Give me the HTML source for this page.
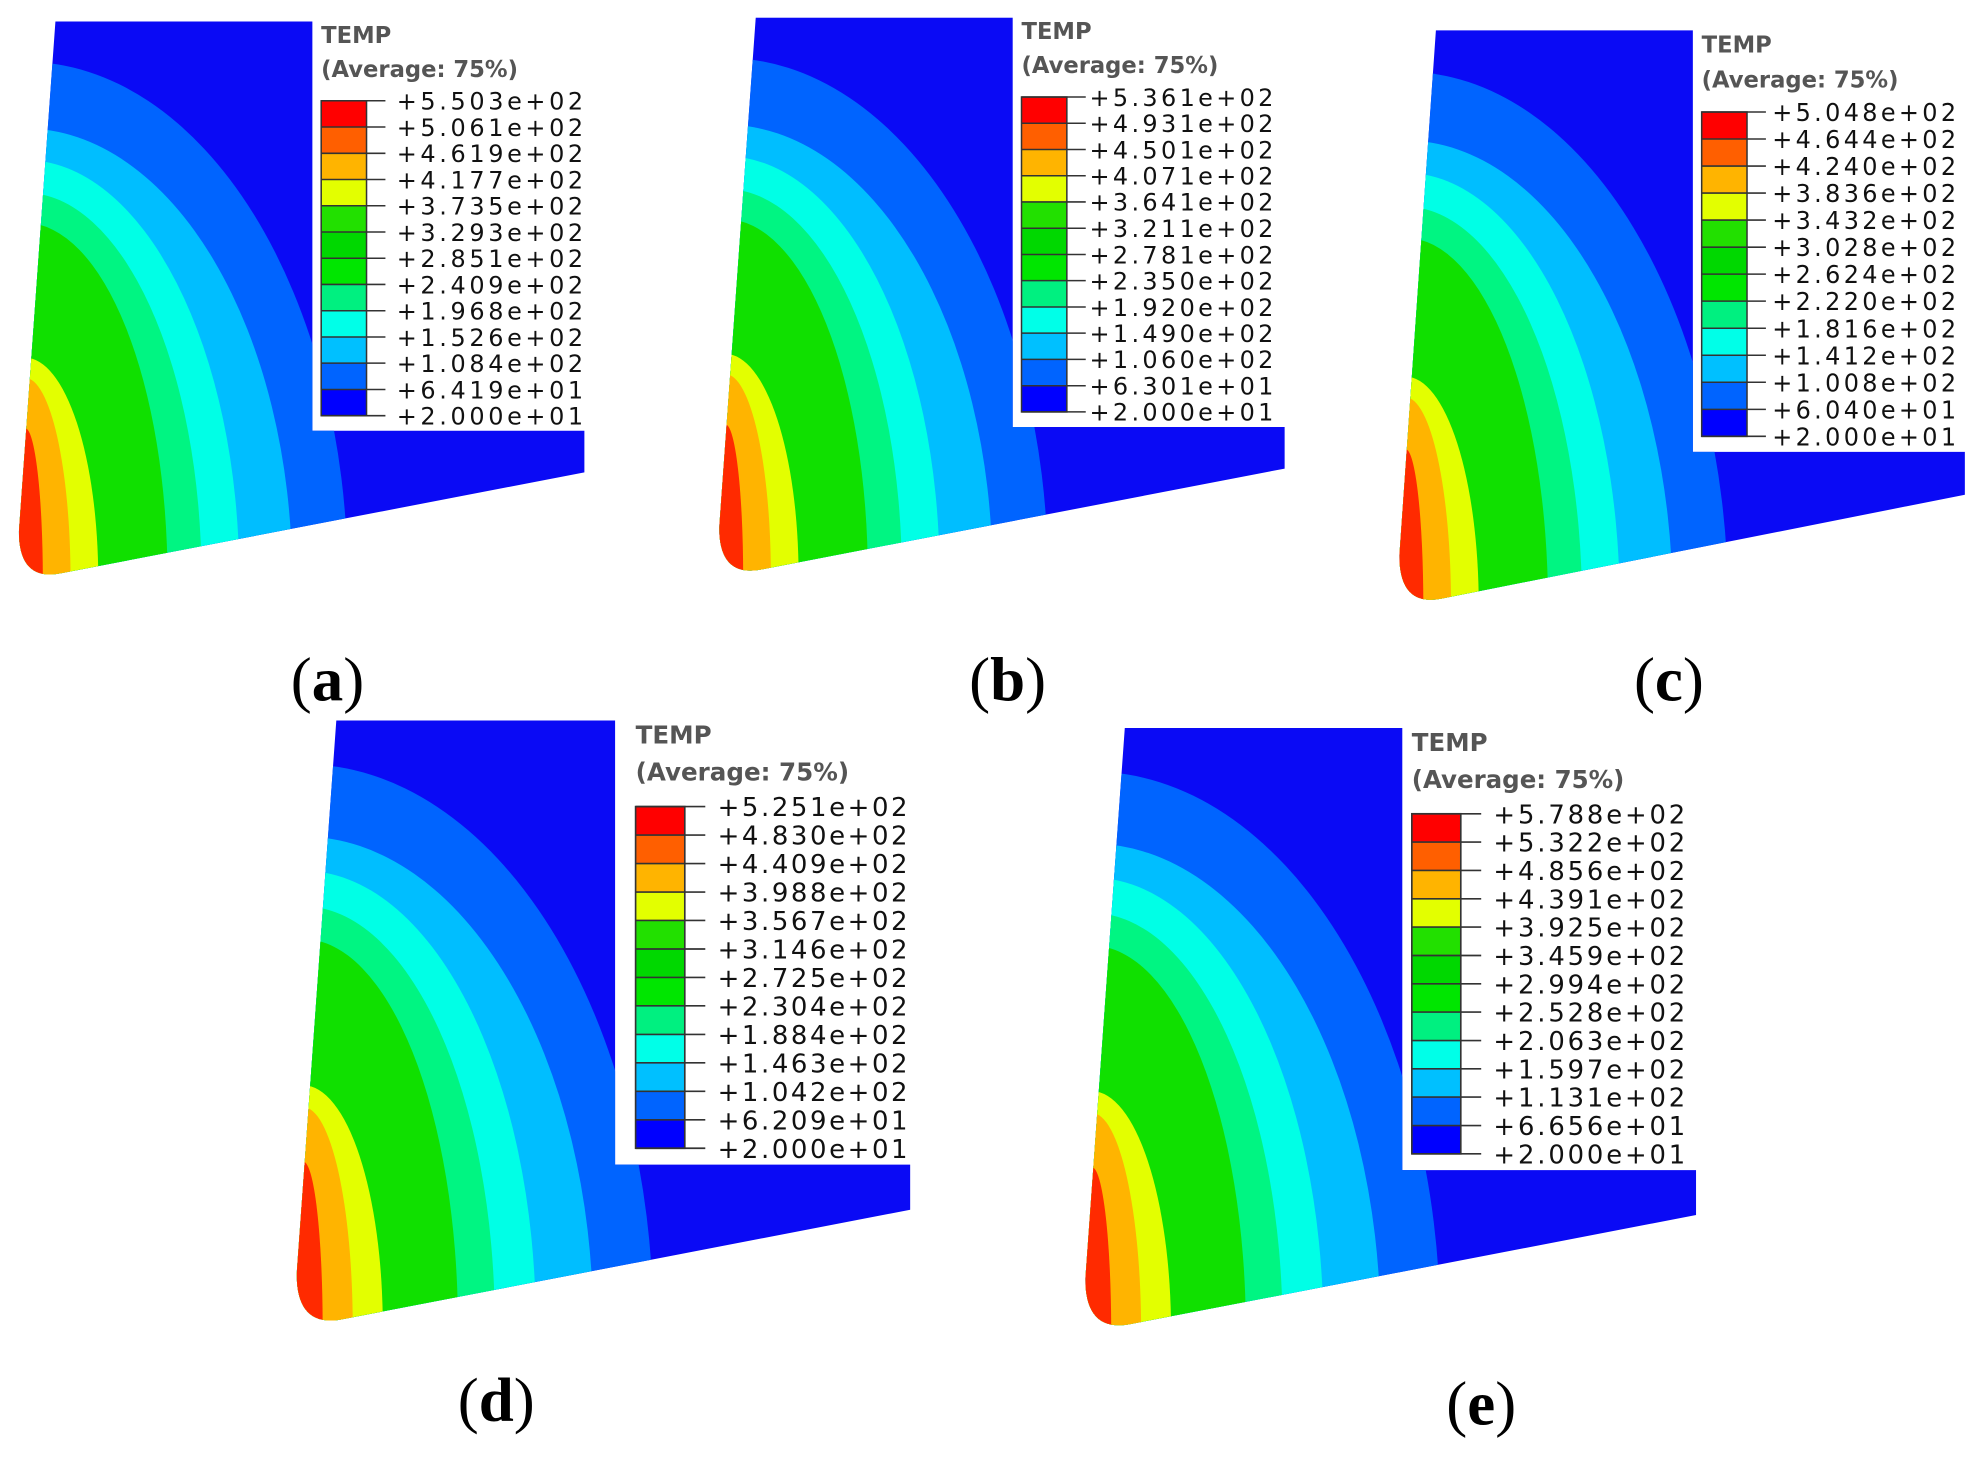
<!DOCTYPE html>
<html><head><meta charset="utf-8"><style>
html,body{margin:0;padding:0;background:#fff;width:1975px;height:1458px;overflow:hidden;}
svg{display:block;}
.t{font-family:"DejaVu Sans","Liberation Sans",sans-serif;font-weight:bold;fill:#555;font-size:18px;}
.v{font-family:"DejaVu Sans","Liberation Sans",sans-serif;fill:#111;font-size:19px;}
.cap{font-family:"Liberation Serif",serif;font-size:50px;fill:#000;}
</style></head><body>
<svg width="1975" height="1458" viewBox="0 0 1568 1157.5" xmlns="http://www.w3.org/2000/svg">
<defs>
<clipPath id="sh"><path d="M0,0 H204 V325 H420 V358 L5,438 Q-29,445 -29,405 Z"/></clipPath>
<g id="shape">
 <g clip-path="url(#sh)">
  <rect x="-40" y="-10" width="480" height="460" fill="#0a0af5"/>
  <ellipse cx="-24" cy="443" rx="256" ry="411" fill="#0064ff"/>
  <ellipse cx="-24" cy="443" rx="212" ry="358" fill="#00beff"/>
  <ellipse cx="-24" cy="443" rx="170" ry="333" fill="#00ffe6"/>
  <ellipse cx="-24" cy="443" rx="140" ry="307" fill="#00f582"/>
  <ellipse cx="-24" cy="443" rx="113" ry="283" fill="#10e000"/>
  <ellipse cx="-24" cy="443" rx="58" ry="176" fill="#e3ff00"/>
  <ellipse cx="-24" cy="443" rx="36" ry="160" fill="#ffb400"/>
  <ellipse cx="-24" cy="443" rx="14" ry="120" fill="#ff2a00"/>
 </g>
</g>
<g id="leg">
 <rect x="211" y="63" width="36" height="20.83" fill="#ff0000"/>
 <rect x="211" y="83.83" width="36" height="20.83" fill="#ff5f00"/>
 <rect x="211" y="104.67" width="36" height="20.83" fill="#ffb400"/>
 <rect x="211" y="125.5" width="36" height="20.83" fill="#e3ff00"/>
 <rect x="211" y="146.33" width="36" height="20.83" fill="#22e000"/>
 <rect x="211" y="167.17" width="36" height="20.83" fill="#00d800"/>
 <rect x="211" y="188" width="36" height="20.83" fill="#00e600"/>
 <rect x="211" y="208.83" width="36" height="20.83" fill="#00f080"/>
 <rect x="211" y="229.67" width="36" height="20.83" fill="#00ffe8"/>
 <rect x="211" y="250.5" width="36" height="20.83" fill="#00c0ff"/>
 <rect x="211" y="271.33" width="36" height="20.83" fill="#0064ff"/>
 <rect x="211" y="292.17" width="36" height="20.83" fill="#0000ff"/>
 <g stroke="#333" stroke-width="1.2">
  <path d="M211,63H262M211,83.8H262M211,104.7H262M211,125.5H262M211,146.3H262M211,167.2H262M211,188H262M211,208.8H262M211,229.7H262M211,250.5H262M211,271.3H262M211,292.2H262M211,313H262"/>
  <rect x="211" y="63" width="36" height="250" fill="none"/>
 </g>
 <text class="t" x="211" y="17">TEMP</text>
 <text class="t" x="211" y="44">(Average: 75%)</text>
</g>
</defs>

<!-- (a) -->
<g transform="translate(44,17)">
 <use href="#shape"/><use href="#leg"/>
 <g class="v">
  <text x="271" y="70" textLength="148">+5.503e+02</text>
  <text x="271" y="90.8" textLength="148">+5.061e+02</text>
  <text x="271" y="111.7" textLength="148">+4.619e+02</text>
  <text x="271" y="132.5" textLength="148">+4.177e+02</text>
  <text x="271" y="153.3" textLength="148">+3.735e+02</text>
  <text x="271" y="174.2" textLength="148">+3.293e+02</text>
  <text x="271" y="195" textLength="148">+2.851e+02</text>
  <text x="271" y="215.8" textLength="148">+2.409e+02</text>
  <text x="271" y="236.7" textLength="148">+1.968e+02</text>
  <text x="271" y="257.5" textLength="148">+1.526e+02</text>
  <text x="271" y="278.3" textLength="148">+1.084e+02</text>
  <text x="271" y="299.2" textLength="148">+6.419e+01</text>
  <text x="271" y="320" textLength="148">+2.000e+01</text>
 </g>
</g>
<!-- (b) -->
<g transform="translate(600,14)">
 <use href="#shape"/><use href="#leg"/>
 <g class="v">
  <text x="265" y="70" textLength="146">+5.361e+02</text>
  <text x="265" y="90.8" textLength="146">+4.931e+02</text>
  <text x="265" y="111.7" textLength="146">+4.501e+02</text>
  <text x="265" y="132.5" textLength="146">+4.071e+02</text>
  <text x="265" y="153.3" textLength="146">+3.641e+02</text>
  <text x="265" y="174.2" textLength="146">+3.211e+02</text>
  <text x="265" y="195" textLength="146">+2.781e+02</text>
  <text x="265" y="215.8" textLength="146">+2.350e+02</text>
  <text x="265" y="236.7" textLength="146">+1.920e+02</text>
  <text x="265" y="257.5" textLength="146">+1.490e+02</text>
  <text x="265" y="278.3" textLength="146">+1.060e+02</text>
  <text x="265" y="299.2" textLength="146">+6.301e+01</text>
  <text x="265" y="320" textLength="146">+2.000e+01</text>
 </g>
</g>
<!-- (c) -->
<g transform="translate(1140,24) scale(1.0,1.03)">
 <use href="#shape"/><use href="#leg"/>
 <g class="v">
  <text x="267" y="70" textLength="146">+5.048e+02</text>
  <text x="267" y="90.8" textLength="146">+4.644e+02</text>
  <text x="267" y="111.7" textLength="146">+4.240e+02</text>
  <text x="267" y="132.5" textLength="146">+3.836e+02</text>
  <text x="267" y="153.3" textLength="146">+3.432e+02</text>
  <text x="267" y="174.2" textLength="146">+3.028e+02</text>
  <text x="267" y="195" textLength="146">+2.624e+02</text>
  <text x="267" y="215.8" textLength="146">+2.220e+02</text>
  <text x="267" y="236.7" textLength="146">+1.816e+02</text>
  <text x="267" y="257.5" textLength="146">+1.412e+02</text>
  <text x="267" y="278.3" textLength="146">+1.008e+02</text>
  <text x="267" y="299.2" textLength="146">+6.040e+01</text>
  <text x="267" y="320" textLength="146">+2.000e+01</text>
 </g>
</g>
<!-- (d) -->
<g transform="translate(267,572) scale(1.085)">
 <use href="#shape"/>
 <g transform="translate(8,0)">
 <use href="#leg"/>
 <g class="v">
  <text x="271" y="70" textLength="139">+5.251e+02</text>
  <text x="271" y="90.8" textLength="139">+4.830e+02</text>
  <text x="271" y="111.7" textLength="139">+4.409e+02</text>
  <text x="271" y="132.5" textLength="139">+3.988e+02</text>
  <text x="271" y="153.3" textLength="139">+3.567e+02</text>
  <text x="271" y="174.2" textLength="139">+3.146e+02</text>
  <text x="271" y="195" textLength="139">+2.725e+02</text>
  <text x="271" y="215.8" textLength="139">+2.304e+02</text>
  <text x="271" y="236.7" textLength="139">+1.884e+02</text>
  <text x="271" y="257.5" textLength="139">+1.463e+02</text>
  <text x="271" y="278.3" textLength="139">+1.042e+02</text>
  <text x="271" y="299.2" textLength="139">+6.209e+01</text>
  <text x="271" y="320" textLength="139">+2.000e+01</text>
 </g>
 </g>
</g>
<!-- (e) -->
<g transform="translate(893,578) scale(1.08)">
 <use href="#shape"/><use href="#leg"/>
 <g class="v">
  <text x="271" y="70" textLength="141">+5.788e+02</text>
  <text x="271" y="90.8" textLength="141">+5.322e+02</text>
  <text x="271" y="111.7" textLength="141">+4.856e+02</text>
  <text x="271" y="132.5" textLength="141">+4.391e+02</text>
  <text x="271" y="153.3" textLength="141">+3.925e+02</text>
  <text x="271" y="174.2" textLength="141">+3.459e+02</text>
  <text x="271" y="195" textLength="141">+2.994e+02</text>
  <text x="271" y="215.8" textLength="141">+2.528e+02</text>
  <text x="271" y="236.7" textLength="141">+2.063e+02</text>
  <text x="271" y="257.5" textLength="141">+1.597e+02</text>
  <text x="271" y="278.3" textLength="141">+1.131e+02</text>
  <text x="271" y="299.2" textLength="141">+6.656e+01</text>
  <text x="271" y="320" textLength="141">+2.000e+01</text>
 </g>
</g>

<text class="cap" x="260" y="556" text-anchor="middle">(<tspan font-weight="bold">a</tspan>)</text>
<text class="cap" x="800" y="556" text-anchor="middle">(<tspan font-weight="bold">b</tspan>)</text>
<text class="cap" x="1325" y="556" text-anchor="middle">(<tspan font-weight="bold">c</tspan>)</text>
<text class="cap" x="394" y="1128" text-anchor="middle">(<tspan font-weight="bold">d</tspan>)</text>
<text class="cap" x="1176" y="1131" text-anchor="middle">(<tspan font-weight="bold">e</tspan>)</text>
</svg>
</body></html>
